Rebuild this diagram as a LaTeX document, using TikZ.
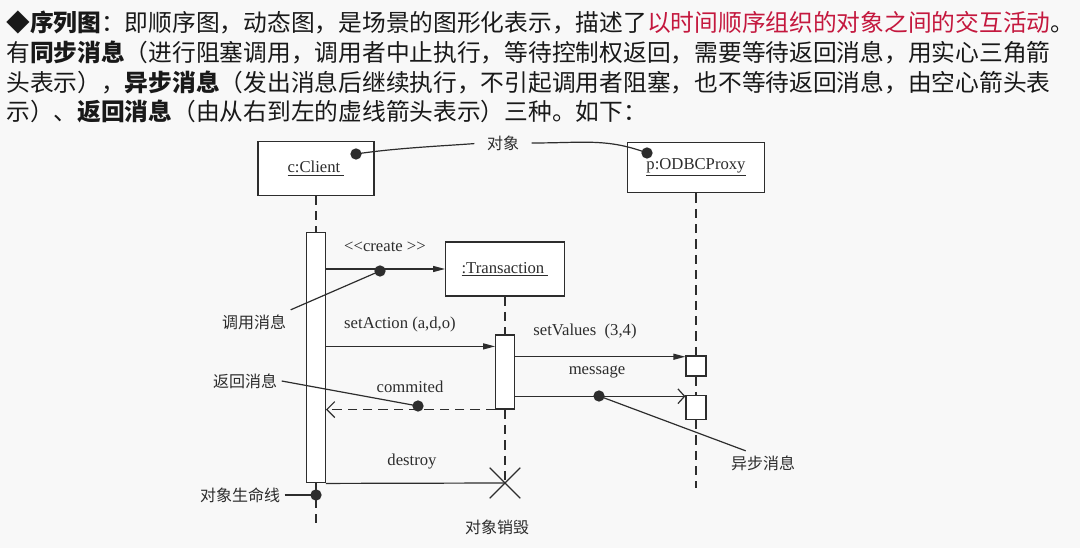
\documentclass[tikz,border=0pt]{standalone}
\usepackage{fontspec}
\setmainfont{Liberation Serif}
\newfontfamily\cjk{Noto Sans CJK SC}
\usetikzlibrary{arrows.meta, positioning, shapes.misc}

\definecolor{ink}{RGB}{45,45,45}
\definecolor{txt}{RGB}{25,25,25}
\definecolor{inkred}{RGB}{196,24,62}
\definecolor{paper}{RGB}{248,248,248}

\begin{document}
\begin{tikzpicture}[x=0.75pt, y=-0.75pt,
  ln/.style={draw=ink, line width=0.9pt},
  obj/.style={ln, fill=white, inner sep=0pt, text=ink, font=\fontsize{12.5}{14}\selectfont},
  act/.style={ln, fill=white, minimum width=14pt, inner sep=0pt},
  life/.style={draw=ink, line width=0.9pt, dash pattern=on 7pt off 4.5pt},
  sync/.style={ln, -{Triangle[length=9pt,width=4.5pt]}},
  async/.style={ln, -{Straight Barb[length=5pt,width=11pt]}},
  reply/.style={life, -{Straight Barb[length=6pt,width=12pt]}},
  msg/.style={text=ink, font=\fontsize{12.5}{14}\selectfont},
  note/.style={text=ink, font=\cjk\fontsize{12}{14}\selectfont},
  blob/.style={circle, fill=ink, inner sep=0pt, minimum size=8.5pt},
  hdr/.style={anchor=west, inner sep=0pt, text=txt, font=\cjk\fontsize{17.8}{20}\selectfont}
]
\useasboundingbox[fill=paper] (0,0) rectangle (1080,548);

% header text
\node[hdr] (hl1) at (6,22) {{\bfseries ◆序列图}：即顺序图，动态图，是场景的图形化表示，描述了\textcolor{inkred}{以时间顺序组织的对象之间的交互活动}。};
\node[hdr] (hl2) at (6,52) {有{\bfseries 同步消息}（进行阻塞调用，调用者中止执行，等待控制权返回，需要等待返回消息，用实心三角箭};
\node[hdr] (hl3) at (6,82) {头表示），{\bfseries 异步消息}（发出消息后继续执行，不引起调用者阻塞，也不等待返回消息，由空心箭头表};
\node[hdr] (hl4) at (6,111) {示）、{\bfseries 返回消息}（由从右到左的虚线箭头表示）三种。如下：};

% objects
\node[obj, minimum width=87pt, minimum height=40pt] (client) at (316,168.5) {\underline{c:Client~}};
\node[obj, minimum width=103pt, minimum height=38pt] (proxy) at (696,167.5) {\underline{p:ODBCProxy}};
\node[obj, minimum width=89pt, minimum height=40.5pt] (trans) at (505,269) {\underline{:Transaction~}};

% activations
\node[act, minimum height=188pt] (actC) at (316,357.5) {};
\node[act, minimum height=55.5pt] (actT) at (505,372) {};
\node[act, minimum width=15pt, minimum height=15pt] (actP1) at (696,366) {};
\node[act, minimum width=15pt, minimum height=18pt] (actP2) at (696,407.5) {};
\node[cross out, ln, minimum size=22pt, inner sep=0pt] (kill) at (505,483) {};

% lifelines
\coordinate (cEnd) at (316,528);
\coordinate (pEnd) at (696,488);
\draw[life] (client.south) -- (actC.north);
\draw[life] (actC.south) -- (cEnd);
\draw[life] (trans.south) -- (actT.north);
\draw[life] (actT.south) -- (kill.center);
\draw[life] (proxy.south) -- (actP1.north);
\draw[life] (actP1.south) -- (actP2.north);
\draw[life] (actP2.south) -- (pEnd);

% messages
\coordinate (sa) at ([yshift=-9pt]actT.north west);
\coordinate (sv) at ([yshift=-1pt]actP1.north west);
\coordinate (ms) at ([yshift=-1pt]actP2.north west);
\draw[sync] (actC.east |- trans.west) -- (trans.west);
\draw[sync] (actC.east |- sa) -- (sa);
\draw[sync] (actT.east |- sv) -- (sv);
\draw[async] (actT.east |- ms) -- (ms);
\draw[reply] (actT.south west) -- (actC.east |- actT.south west);
\draw[ln] (actC.south east) -- (kill.center);

\node[msg] (lCreate) at (385,247) {<{}<create >{}>};
\node[msg] (lAction) at (400,324) {setAction (a,d,o)};
\node[msg] (lValues) at (585,331) {setValues\ \ (3,4)};
\node[msg] (lMessage) at (597,372) {message};
\node[msg] (lCommit) at (410,387) {commited};
\node[msg] (lDestroy) at (412,462) {destroy};

% notes
\node[note] (nObj) at (503,143) {对象};
\node[note] (nCall) at (254,322) {调用消息};
\node[note] (nRet) at (245,381) {返回消息};
\node[note] (nLife) at (240,495) {对象生命线};
\node[note] (nAsync) at (763,463) {异步消息};
\node[note] (nKill) at (497,527) {对象销毁};

\node[blob] (bC) at (356,154) {};
\node[blob] (bP) at (647,153) {};
\node[blob] (bCreate) at (380,271) {};
\node[blob] (bReply) at (418,406) {};
\node[blob] (bAsync) at (599,396) {};
\node[blob] (bLife) at (316,495) {};

\draw[ln, shorten <=6pt] (nObj.west) .. controls +(-40,3) and +(40,-6) .. (bC.center);
\draw[ln, shorten <=6pt] (nObj.east) .. controls +(60,0) and +(-40,-15) .. (bP.center);
\draw[ln] (nCall.north east) -- (bCreate.center);
\draw[ln] (nRet.east) -- (bReply.center);
\draw[ln] (nLife.east) -- (bLife.center);
\draw[ln] ([xshift=-13pt]nAsync.north) -- (bAsync.center);
\end{tikzpicture}
\end{document}
